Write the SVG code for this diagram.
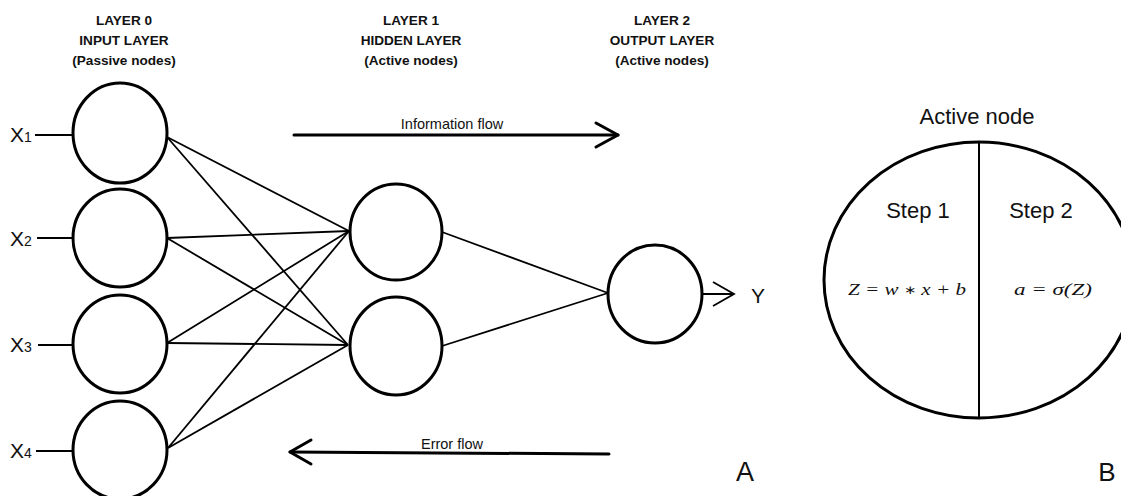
<svg xmlns="http://www.w3.org/2000/svg" width="1121" height="496" viewBox="0 0 1121 496">
<style>
.node{fill:#fff;stroke:#000;stroke-width:3}
.edge{stroke:#000;stroke-width:1.8;fill:none}
.arrow{stroke:#000;stroke-width:3;fill:none;stroke-linecap:round;stroke-linejoin:round}
.hdr{font-family:"Liberation Sans",Arial,sans-serif;font-weight:bold;font-size:13.6px;text-anchor:middle;fill:#111}
.lbl{font-family:"Liberation Sans",Arial,sans-serif;fill:#111}
.math{font-family:"Liberation Serif","Times New Roman",serif;font-style:italic;font-size:17px;text-anchor:middle;fill:#111}
</style>
<rect width="1121" height="496" fill="#fff"/>
<g id="headers">
<text class="hdr" x="124" y="25">LAYER 0</text>
<text class="hdr" x="124" y="45">INPUT LAYER</text>
<text class="hdr" x="124" y="65">(Passive nodes)</text>
<text class="hdr" x="411" y="25">LAYER 1</text>
<text class="hdr" x="411" y="45">HIDDEN LAYER</text>
<text class="hdr" x="411" y="65">(Active nodes)</text>
<text class="hdr" x="662" y="25">LAYER 2</text>
<text class="hdr" x="662" y="45">OUTPUT LAYER</text>
<text class="hdr" x="662" y="65">(Active nodes)</text>
</g>
<g id="connectors">
<line class="edge" x1="35" y1="135" x2="73" y2="135"/>
<line class="edge" x1="37" y1="238" x2="73" y2="238"/>
<line class="edge" x1="38" y1="345" x2="73" y2="345"/>
<line class="edge" x1="36" y1="451" x2="73" y2="451"/>
<line class="edge" x1="167" y1="137" x2="349" y2="231"/>
<line class="edge" x1="167" y1="137" x2="348" y2="345"/>
<line class="edge" x1="167" y1="238" x2="349" y2="231"/>
<line class="edge" x1="167" y1="238" x2="348" y2="345"/>
<line class="edge" x1="167" y1="343" x2="349" y2="231"/>
<line class="edge" x1="167" y1="343" x2="348" y2="345"/>
<line class="edge" x1="168" y1="448" x2="349" y2="231"/>
<line class="edge" x1="168" y1="448" x2="348" y2="345"/>
<line class="edge" x1="442" y1="232" x2="608" y2="293"/>
<line class="edge" x1="442" y1="346" x2="608" y2="293"/>
<line class="edge" x1="701" y1="294" x2="734" y2="294"/>
<polyline class="edge" points="713,282 734,294 713,306"/>
<line class="arrow" x1="294" y1="135" x2="618" y2="135"/>
<polyline class="arrow" points="596,123 618,135 596,147"/>
<line class="arrow" x1="609" y1="454" x2="290" y2="452"/>
<polyline class="arrow" points="311,440 290,452 311,464"/>
</g>
<g id="input1"><ellipse class="node" cx="120" cy="133" rx="47" ry="50"/><text class="lbl" x="10" y="142" font-size="21">X<tspan font-size="14">1</tspan></text></g>
<g id="input2"><ellipse class="node" cx="120" cy="238" rx="47" ry="49"/><text class="lbl" x="10" y="246" font-size="21">X<tspan font-size="14">2</tspan></text></g>
<g id="input3"><ellipse class="node" cx="120" cy="344" rx="47" ry="49"/><text class="lbl" x="10" y="352" font-size="21">X<tspan font-size="14">3</tspan></text></g>
<g id="input4"><ellipse class="node" cx="120" cy="450" rx="47" ry="49"/><text class="lbl" x="10" y="458" font-size="21">X<tspan font-size="14">4</tspan></text></g>
<g id="hidden1"><ellipse class="node" cx="396" cy="232" rx="46" ry="48"/></g>
<g id="hidden2"><ellipse class="node" cx="396" cy="346" rx="46" ry="49"/></g>
<g id="output"><ellipse class="node" cx="655" cy="294" rx="47" ry="49"/><text class="lbl" x="751" y="303" font-size="21">Y</text></g>
<g id="flow-labels">
<text class="lbl" x="452" y="129" font-size="14.5" text-anchor="middle">Information flow</text>
<text class="lbl" x="452" y="449" font-size="14.5" text-anchor="middle">Error flow</text>
<text class="lbl" x="745" y="481" font-size="27" text-anchor="middle">A</text>
</g>
<g id="active-node">
<text class="lbl" x="977" y="124" font-size="22" text-anchor="middle">Active node</text>
<ellipse class="node" cx="979" cy="280" rx="155" ry="138"/>
<line x1="979" y1="142" x2="979" y2="418" stroke="#000" stroke-width="2"/>
<text class="lbl" x="918" y="218" font-size="22" text-anchor="middle">Step 1</text>
<text class="lbl" x="1041" y="218" font-size="22" text-anchor="middle">Step 2</text>
<text class="math" x="907" y="295" textLength="118" lengthAdjust="spacingAndGlyphs">Z = w <tspan font-size="12" font-style="normal" dy="-1">∗</tspan><tspan dy="1"> x + b</tspan></text>
<text class="math" x="1053" y="295" textLength="78" lengthAdjust="spacingAndGlyphs">a = σ(Z)</text>
<text class="lbl" x="1107" y="481" font-size="26" text-anchor="middle">B</text>
</g>
</svg>
